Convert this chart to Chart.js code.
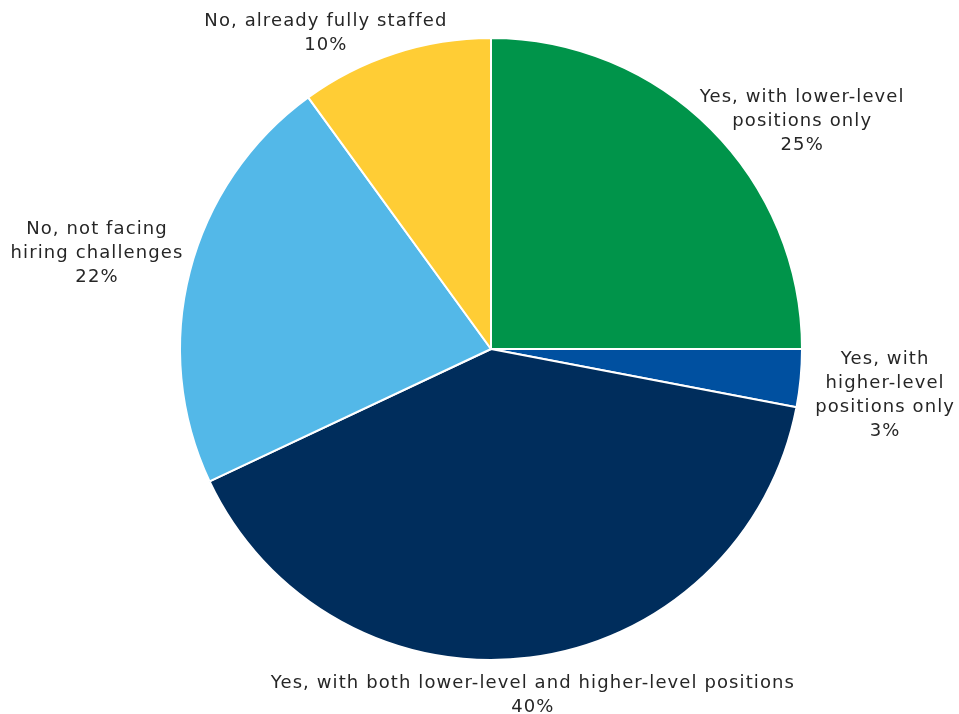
<!DOCTYPE html>
<html>
<head>
<meta charset="utf-8">
<title>Hiring challenges</title>
<script src="https://cdn.jsdelivr.net/npm/chart.js@4/dist/chart.umd.min.js"></script>
<style>
  html, body { margin: 0; padding: 0; background: #ffffff; }
  #wrap { width: 959px; height: 714px; position: relative; }
</style>
</head>
<body>
<div id="wrap"><canvas id="chart" width="959" height="714"></canvas></div>
<script>
// Survey answers, clockwise from 12 o'clock
const categories = [
  ["Yes, with lower-level", "positions only"],
  ["Yes, with", "higher-level", "positions only"],
  ["Yes, with both lower-level and higher-level positions"],
  ["No, not facing", "hiring challenges"],
  ["No, already fully staffed"]
];
const shares = [25, 3, 40, 22, 10];
const sliceColors = ["#00944a", "#0050a0", "#002d5c", "#53b8e8", "#ffcd35"];

// Where each label sits around its slice: angular nudge (degrees) and distance as a multiple of the radius
const labelPlacement = [
  { shift: 8.8, dist: 1.240 },
  { shift: 1.3, dist: 1.276 },
  { shift: 0.3, dist: 1.121 },
  { shift: -0.7, dist: 1.304 },
  { shift: -9.6, dist: 1.146 }
];

const FONT = '18px "DejaVu Sans", sans-serif';
const LINE_H = 24;

const outsideLabels = {
  id: 'outsideLabels',
  afterDatasetsDraw(chart) {
    const ctx = chart.ctx;
    const meta = chart.getDatasetMeta(0);
    const data = chart.data.datasets[0].data;
    ctx.save();
    ctx.font = FONT;
    if ('letterSpacing' in ctx) ctx.letterSpacing = '1.1px';
    ctx.fillStyle = '#262626';
    ctx.textAlign = 'center';
    ctx.textBaseline = 'middle';
    meta.data.forEach((arc, i) => {
      const p = arc.getProps(['x', 'y', 'startAngle', 'endAngle', 'outerRadius'], true);
      const place = labelPlacement[i];
      const mid = (p.startAngle + p.endAngle) / 2 + place.shift * Math.PI / 180;
      const r = p.outerRadius * place.dist;
      const cx = p.x + Math.cos(mid) * r;
      const cy = p.y + Math.sin(mid) * r;
      const lines = chart.data.labels[i].concat([data[i] + '%']);
      const top = cy - (lines.length - 1) * LINE_H / 2;
      lines.forEach((t, k) => ctx.fillText(t, cx, top + k * LINE_H));
    });
    ctx.restore();
  }
};

new Chart(document.getElementById('chart'), {
  type: 'pie',
  data: {
    labels: categories,
    datasets: [{
      data: shares,
      backgroundColor: sliceColors,
      borderColor: '#ffffff',
      borderWidth: 2
    }]
  },
  options: {
    responsive: false,
    animation: false,
    layout: { padding: { top: 37, bottom: 53, left: 179, right: 156 } },
    plugins: {
      legend: { display: false },
      tooltip: { enabled: false }
    }
  },
  plugins: [outsideLabels]
});
</script>
</body>
</html>
